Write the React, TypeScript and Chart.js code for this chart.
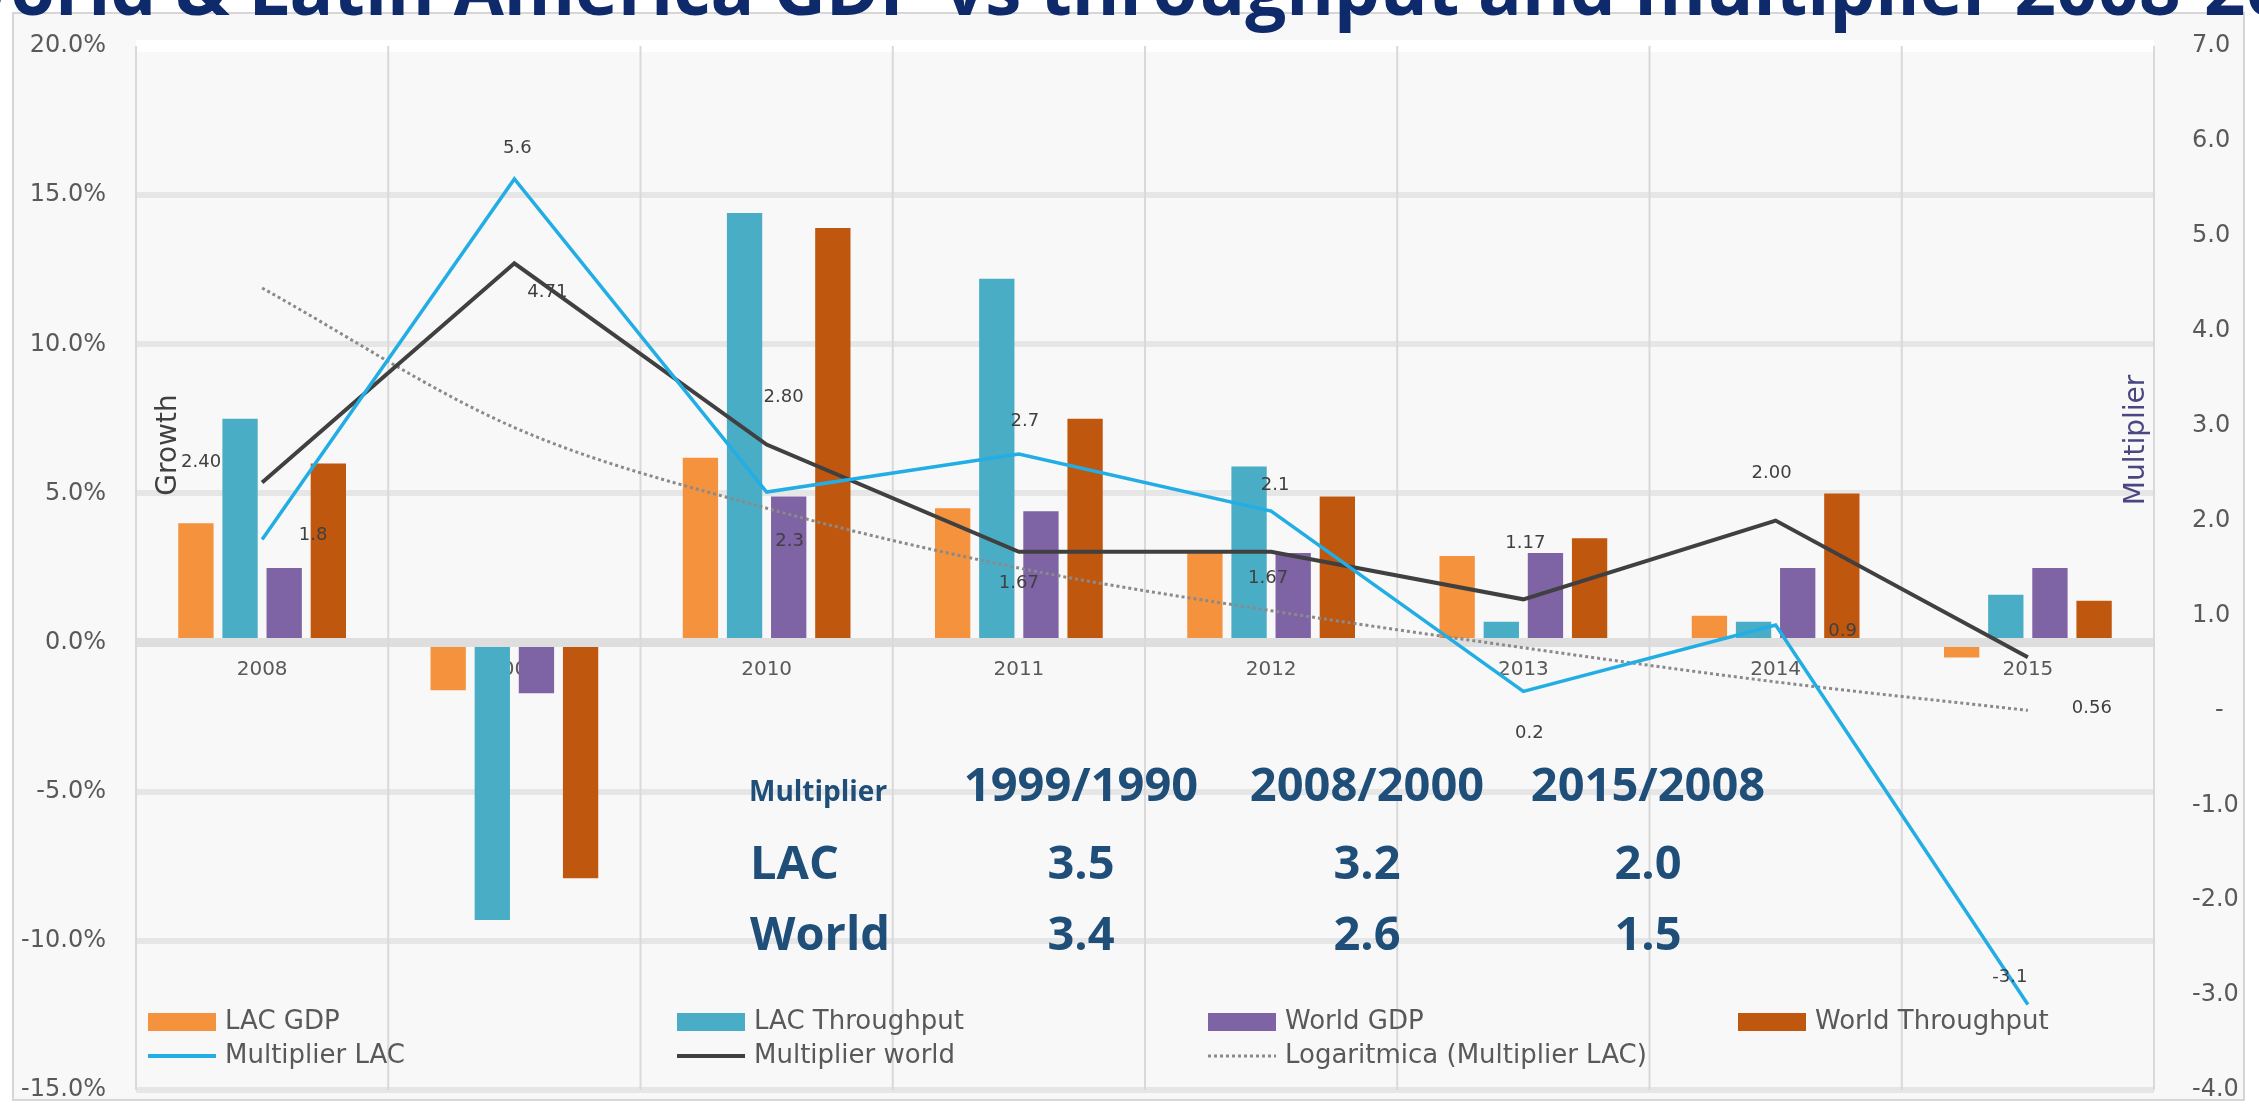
import React, { useEffect, useRef } from 'react';
import { Chart, registerables } from 'chart.js';

Chart.register(...registerables);

// ---------- data ----------
const years = ['2008', '2009', '2010', '2011', '2012', '2013', '2014', '2015'];
const lacGdp = [4.0, -1.6, 6.2, 4.5, 3.0, 2.9, 0.9, -0.5];
const lacThroughput = [7.5, -9.3, 14.4, 12.2, 5.9, 0.7, 0.7, 1.6];
const worldGdp = [2.5, -1.7, 4.9, 4.4, 3.0, 3.0, 2.5, 2.5];
const worldThroughput = [6.0, -7.9, 13.9, 7.5, 4.9, 3.5, 5.0, 1.4];
const multiplierLac = [1.8, 5.6, 2.3, 2.7, 2.1, 0.2, 0.9, -3.1];
const multiplierWorld = [2.4, 4.71, 2.8, 1.67, 1.67, 1.17, 2.0, 0.56];
const logTrendLac = [4.45, 2.98, 2.13, 1.5, 1.05, 0.66, 0.3, 0.0];

const seriesNames = ['LAC GDP', 'LAC Throughput', 'World GDP', 'World Throughput', 'Multiplier LAC', 'Multiplier world', 'Logaritmica (Multiplier LAC)'];
const titleText = 'World & Latin America GDP vs throughput and multiplier 2008-2015';
const tableHeader = ['Multiplier', '1999/1990', '2008/2000', '2015/2008'];
const tableRowLac = ['LAC', '3.5', '3.2', '2.0'];
const tableRowWorld = ['World', '3.4', '2.6', '1.5'];

// ---------- styles ----------
const W = 2259;
const H = 1112;
const C_LAC_GDP = '#F4923E';
const C_LAC_TP = '#4AADC6';
const C_WORLD_GDP = '#7E63A5';
const C_WORLD_TP = '#C0570F';
const C_MULT_LAC = '#22AEE4';
const C_MULT_WORLD = '#404040';
const C_TREND = '#8a8a8a';
const TEXT_GRAY = '#595959';
const NAVY = '#0E2A6B';
const TABLE_BLUE = '#1F4E79';
const SANS = '"DejaVu Sans", sans-serif';
const OPEN = '"Open Sans", sans-serif';

// label offsets (dx, dy) for the data labels of the two multiplier lines
const worldLabelOffsets = [[-61, -20], [33, 29], [17, -47], [0, 31], [-3, 26], [2, -56], [-4, -47], [64, 51]];
const lacLabelOffsets = [[51, -4], [3, -31], [23, 49], [6, -33], [4, -26], [6, 42], [67, 6], [-18, -27]];

const decorPlugin = {
  id: 'slideDecor',
  beforeDraw(chart: any) {
    const ctx = chart.ctx;
    ctx.save();
    ctx.fillStyle = '#ffffff';
    ctx.fillRect(0, 0, W, H);
    ctx.fillStyle = '#f8f8f8';
    ctx.fillRect(13, 13, 2231, 1087);
    ctx.strokeStyle = '#d6d6d6';
    ctx.lineWidth = 2;
    ctx.strokeRect(13, 13, 2231, 1087);
    ctx.restore();
  },
  beforeDatasetsDraw(chart: any) {
    const ctx = chart.ctx;
    const xs = chart.scales.x;
    const ys = chart.scales.y;
    const area = chart.chartArea;
    const y0 = ys.getPixelForValue(0);
    ctx.save();
    // vertical category separators
    ctx.strokeStyle = '#d9d9d9';
    ctx.lineWidth = 2;
    const n = years.length;
    for (let k = 0; k <= n; k++) {
      let px;
      if (k === 0) px = area.left;
      else if (k === n) px = area.right;
      else px = (xs.getPixelForValue(k - 1) + xs.getPixelForValue(k)) / 2;
      ctx.beginPath();
      ctx.moveTo(px, area.top);
      ctx.lineTo(px, area.bottom);
      ctx.stroke();
    }
    // year labels sitting just under the zero line
    ctx.font = `20px ${SANS}`;
    ctx.fillStyle = TEXT_GRAY;
    ctx.textAlign = 'center';
    ctx.textBaseline = 'middle';
    years.forEach((yr, i) => {
      ctx.fillText(yr, xs.getPixelForValue(i), y0 + 27);
    });
    ctx.restore();
  },
  afterDatasetsDraw(chart: any) {
    const ctx = chart.ctx;
    ctx.save();
    // data labels
    ctx.font = `18px ${SANS}`;
    ctx.fillStyle = '#404040';
    ctx.textAlign = 'center';
    ctx.textBaseline = 'middle';
    const metaLac = chart.getDatasetMeta(4);
    const metaWorld = chart.getDatasetMeta(5);
    multiplierLac.forEach((v, i) => {
      const p = metaLac.data[i];
      const o = lacLabelOffsets[i];
      ctx.fillText(v.toFixed(1), p.x + o[0], p.y + o[1]);
    });
    multiplierWorld.forEach((v, i) => {
      const p = metaWorld.data[i];
      const o = worldLabelOffsets[i];
      ctx.fillText(v.toFixed(2), p.x + o[0], p.y + o[1]);
    });

    // axis titles
    ctx.font = `28px ${SANS}`;
    ctx.fillStyle = '#404040';
    ctx.save();
    ctx.translate(169, 445);
    ctx.rotate(-Math.PI / 2);
    ctx.fillText('Growth', 0, 0);
    ctx.restore();
    ctx.font = `28px ${SANS}`;
    ctx.fillStyle = '#4B4680';
    ctx.save();
    ctx.translate(2137, 440);
    ctx.rotate(-Math.PI / 2);
    ctx.fillText('Multiplier', 0, 0);
    ctx.restore();

    // table
    ctx.fillStyle = TABLE_BLUE;
    ctx.textBaseline = 'middle';
    ctx.textAlign = 'left';
    ctx.font = `bold 28px ${OPEN}`;
    ctx.fillText(tableHeader[0], 749, 793);
    ctx.font = `bold 47px ${OPEN}`;
    const colX = [1081, 1367, 1648];
    ctx.textAlign = 'center';
    for (let c = 1; c < 4; c++) ctx.fillText(tableHeader[c], colX[c - 1], 788);
    ctx.textAlign = 'left';
    ctx.fillText(tableRowLac[0], 750, 866);
    ctx.fillText(tableRowWorld[0], 750, 937);
    ctx.textAlign = 'center';
    for (let c = 1; c < 4; c++) {
      ctx.fillText(tableRowLac[c], colX[c - 1], 866);
      ctx.fillText(tableRowWorld[c], colX[c - 1], 937);
    }

    // legend
    const colSw = [148, 677, 1208, 1738];
    const swW = 68;
    const row1 = 1022;
    const row2 = 1056;
    const barColors = [C_LAC_GDP, C_LAC_TP, C_WORLD_GDP, C_WORLD_TP];
    ctx.font = `26px ${SANS}`;
    ctx.textAlign = 'left';
    ctx.textBaseline = 'middle';
    for (let i = 0; i < 4; i++) {
      ctx.fillStyle = barColors[i];
      ctx.fillRect(colSw[i], row1 - 9, swW, 18);
      ctx.fillStyle = TEXT_GRAY;
      ctx.fillText(seriesNames[i], colSw[i] + swW + 9, row1);
    }
    const lineColors = [C_MULT_LAC, C_MULT_WORLD, C_TREND];
    for (let i = 0; i < 3; i++) {
      ctx.save();
      ctx.strokeStyle = lineColors[i];
      ctx.lineWidth = i === 2 ? 3 : 4;
      if (i === 2) ctx.setLineDash([3, 3]);
      ctx.beginPath();
      ctx.moveTo(colSw[i], row2);
      ctx.lineTo(colSw[i] + swW, row2);
      ctx.stroke();
      ctx.restore();
      ctx.fillStyle = TEXT_GRAY;
      ctx.fillText(seriesNames[4 + i], colSw[i] + swW + 9, row2);
    }
    ctx.restore();
  },
  afterDraw(chart: any) {
    const ctx = chart.ctx;
    ctx.save();
    const prefix = titleText.slice(0, titleText.indexOf('2008'));
    ctx.font = `bold 100px ${OPEN}`;
    const unit = ctx.measureText(prefix).width / 100;
    const size = 2075 / unit;
    ctx.font = `bold ${size}px ${OPEN}`;
    ctx.fillStyle = NAVY;
    ctx.textAlign = 'left';
    ctx.textBaseline = 'alphabetic';
    ctx.fillText(titleText, -60, 15);
    ctx.restore();
  },
};

export default function App() {
  const canvasRef = useRef<HTMLCanvasElement | null>(null);

  useEffect(() => {
    document.body.style.margin = '0';
    const canvas = canvasRef.current;
    if (!canvas) return;
    const chart = new Chart(canvas, {
      type: 'bar',
      data: {
        labels: years,
        datasets: [
          { type: 'bar', label: seriesNames[0], data: lacGdp, backgroundColor: C_LAC_GDP, yAxisID: 'y', order: 1 },
          { type: 'bar', label: seriesNames[1], data: lacThroughput, backgroundColor: C_LAC_TP, yAxisID: 'y', order: 1 },
          { type: 'bar', label: seriesNames[2], data: worldGdp, backgroundColor: C_WORLD_GDP, yAxisID: 'y', order: 1 },
          { type: 'bar', label: seriesNames[3], data: worldThroughput, backgroundColor: C_WORLD_TP, yAxisID: 'y', order: 1 },
          { type: 'line', label: seriesNames[4], data: multiplierLac, borderColor: C_MULT_LAC, borderWidth: 3.5, pointRadius: 0, tension: 0, yAxisID: 'y1', order: 0 },
          { type: 'line', label: seriesNames[5], data: multiplierWorld, borderColor: C_MULT_WORLD, borderWidth: 4, pointRadius: 0, tension: 0, yAxisID: 'y1', order: 0 },
          { type: 'line', label: seriesNames[6], data: logTrendLac, borderColor: C_TREND, borderWidth: 3, borderDash: [3, 3], pointRadius: 0, cubicInterpolationMode: 'monotone', yAxisID: 'y1', order: 0 },
        ] as any,
      },
      options: {
        responsive: false,
        animation: false,
        devicePixelRatio: 1,
        layout: { padding: { top: 46, bottom: 22, left: 0, right: 0 } },
        datasets: { bar: { categoryPercentage: 0.7, barPercentage: 0.8 } },
        plugins: { legend: { display: false }, tooltip: { enabled: false }, title: { display: false } },
        scales: {
          x: {
            type: 'category',
            display: false,
            offset: true,
          },
          y: {
            position: 'left',
            min: -15,
            max: 20,
            ticks: {
              stepSize: 5,
              padding: 0,
              color: TEXT_GRAY,
              font: { family: 'DejaVu Sans', size: 24 },
              callback: (v: any) => Number(v).toFixed(1) + '%',
            },
            grid: {
              drawTicks: true,
              tickLength: 30,
              tickColor: 'rgba(0,0,0,0)',
              color: (c: any) => (c.tick && c.tick.value === 20 ? '#ffffff' : c.tick && c.tick.value === 0 ? '#dedede' : '#e6e6e6'),
              lineWidth: (c: any) => (c.tick && c.tick.value === 20 ? 12 : c.tick && c.tick.value === 0 ? 9 : 6),
            },
            border: { display: false },
            afterFit: (s: any) => { s.width = 136; },
          },
          y1: {
            position: 'right',
            min: -4,
            max: 7,
            ticks: {
              stepSize: 1,
              padding: 0,
              crossAlign: 'near',
              color: TEXT_GRAY,
              font: { family: 'DejaVu Sans', size: 24 },
              callback: (v: any) => (Number(v) === 0 ? '   -' : Number(v).toFixed(1)),
            },
            grid: { drawOnChartArea: false, drawTicks: true, tickLength: 38, tickColor: 'rgba(0,0,0,0)' },
            border: { display: false },
            afterFit: (s: any) => { s.width = 105; },
          },
        },
      } as any,
      plugins: [decorPlugin],
    });
    return () => chart.destroy();
  }, []);

  return (
    <div style={{ position: 'absolute', left: 0, top: 0, width: W, height: H }}>
      <canvas ref={canvasRef} width={W} height={H} style={{ display: 'block', width: W, height: H }} />
    </div>
  );
}
